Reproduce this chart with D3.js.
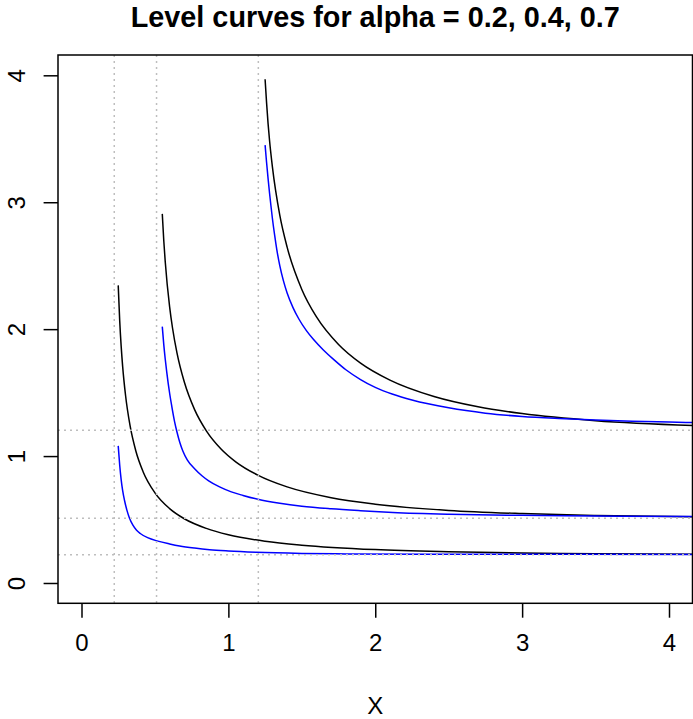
<!doctype html>
<html lang="en">

<head>
    <meta charset="utf-8">
    <title>Level curves</title>
    <style>
        body {
            margin: 0;
            background: #fff;
        }
        text {
            font-family: "Liberation Sans", Arial, sans-serif;
        }
    </style>
</head>

<body>
    <div id="chart"></div>
</body>
<script src="https://cdnjs.cloudflare.com/ajax/libs/d3/7.8.5/d3.min.js"></script>
<script>

    // levels and their thresholds -log(1 - alpha), drawn as dotted guides
    var alphas = [0.2, 0.4, 0.7];
    var guides = [0.223, 0.511, 1.204];
    var ticks = [0, 1, 2, 3, 4];

    // black curves (one per alpha)
    var blackX = [
        [0.25, 0.26, 0.27, 0.28, 0.30, 0.33, 0.37, 0.42, 0.50, 0.60, 0.70, 0.85, 1.00, 1.25, 1.50, 2.00, 2.50, 3.00, 3.50, 4.20],
        [0.55, 0.56, 0.57, 0.60, 0.62, 0.65, 0.70, 0.77, 0.85, 0.95, 1.05, 1.20, 1.40, 1.70, 2.00, 2.50, 3.00, 3.50, 4.20],
        [1.25, 1.26, 1.27, 1.28, 1.30, 1.35, 1.40, 1.50, 1.60, 1.75, 1.90, 2.10, 2.40, 2.70, 3.00, 3.50, 4.20]
    ];
    var blackY = [
        [2.345, 2.069, 1.866, 1.709, 1.477, 1.243, 1.040, 0.875, 0.710, 0.586, 0.506, 0.430, 0.380, 0.329, 0.298, 0.263, 0.246, 0.236, 0.231, 0.227],
        [2.908, 2.700, 2.533, 2.176, 2.007, 1.813, 1.583, 1.366, 1.199, 1.056, 0.955, 0.850, 0.757, 0.672, 0.621, 0.572, 0.547, 0.532, 0.521],
        [3.969, 3.785, 3.623, 3.490, 3.276, 2.898, 2.646, 2.313, 2.096, 1.879, 1.732, 1.598, 1.469, 1.388, 1.335, 1.279, 1.240]
    ];

    // blue curves
    var blueX = [
        [0.25, 0.26, 0.27, 0.28, 0.293, 0.31, 0.327, 0.35, 0.375, 0.40, 0.45, 0.52, 0.60, 0.668, 0.77, 0.872, 1.00, 1.19, 1.50, 1.80, 2.50, 3.30, 4.20],
        [0.55, 0.56, 0.57, 0.58, 0.59, 0.60, 0.615, 0.634, 0.65, 0.67, 0.69, 0.72, 0.77, 0.82, 0.866, 0.94, 1.02, 1.10, 1.20, 1.35, 1.50, 1.70, 1.90, 2.12, 2.50, 3.00, 3.50, 4.20],
        [1.25, 1.26, 1.27, 1.28, 1.29, 1.30, 1.315, 1.33, 1.35, 1.375, 1.40, 1.44, 1.48, 1.53, 1.58, 1.645, 1.72, 1.80, 1.90, 2.00, 2.12, 2.25, 2.50, 2.75, 3.00, 3.25, 3.50, 3.75, 4.00, 4.20]
    ];
    var blueY = [
        [1.080, 0.930, 0.815, 0.730, 0.650, 0.570, 0.510, 0.455, 0.415, 0.390, 0.357, 0.330, 0.308, 0.292, 0.275, 0.262, 0.252, 0.242, 0.233, 0.229, 0.227, 0.226, 0.224],
        [2.020, 1.880, 1.765, 1.665, 1.575, 1.495, 1.390, 1.270, 1.190, 1.105, 1.040, 0.970, 0.900, 0.845, 0.805, 0.757, 0.718, 0.690, 0.660, 0.628, 0.605, 0.585, 0.570, 0.556, 0.542, 0.533, 0.527, 0.523],
        [3.450, 3.315, 3.190, 3.075, 2.970, 2.870, 2.740, 2.625, 2.500, 2.380, 2.285, 2.170, 2.080, 1.990, 1.918, 1.838, 1.758, 1.680, 1.603, 1.541, 1.487, 1.442, 1.380, 1.338, 1.312, 1.296, 1.284, 1.275, 1.268, 1.263]
    ];

    var W = 693, H = 719;
    var pLeft = 58, pRight = 692.5, pTop = 55, pBottom = 603.3;

    var svg = d3.select("#chart").append("svg")
        .attr("width", W)
        .attr("height", H);

    var x = d3.scaleLinear().domain([-0.16, 4.16]).range([pLeft, pRight]);
    var y = d3.scaleLinear().domain([-0.16, 4.16]).range([pBottom, pTop]);

    svg.append("clipPath").attr("id", "clip")
        .append("rect")
        .attr("x", pLeft).attr("y", pTop)
        .attr("width", pRight - pLeft).attr("height", pBottom - pTop);

    var line = d3.line()
        .x(function (d) { return x(d[0]); })
        .y(function (d) { return y(d[1]); })
        .curve(d3.curveMonotoneX);

    var plot = svg.append("g").attr("clip-path", "url(#clip)");

    function pts(xs, ys) {
        return xs.map(function (v, i) { return [v, ys[i]]; });
    }

    alphas.forEach(function (a, k) {
        plot.append("path")
            .attr("d", line(pts(blackX[k], blackY[k])))
            .attr("fill", "none")
            .attr("stroke", "#000")
            .attr("stroke-width", 1.5);
    });
    alphas.forEach(function (a, k) {
        plot.append("path")
            .attr("d", line(pts(blueX[k], blueY[k])))
            .attr("fill", "none")
            .attr("stroke", "#0000ff")
            .attr("stroke-width", 1.5);
    });

    // dotted guides
    plot.selectAll(".vg").data(guides).enter().append("line")
        .attr("x1", function (d) { return x(d); })
        .attr("x2", function (d) { return x(d); })
        .attr("y1", pTop).attr("y2", pBottom)
        .attr("stroke", "#bebebe").attr("stroke-width", 1.5)
        .attr("stroke-dasharray", "2,4");
    plot.selectAll(".hg").data(guides).enter().append("line")
        .attr("y1", function (d) { return y(d); })
        .attr("y2", function (d) { return y(d); })
        .attr("x1", pLeft).attr("x2", pRight)
        .attr("stroke", "#bebebe").attr("stroke-width", 1.5)
        .attr("stroke-dasharray", "2,4");

    // box
    svg.append("rect")
        .attr("x", pLeft).attr("y", pTop)
        .attr("width", pRight - pLeft).attr("height", pBottom - pTop)
        .attr("fill", "none").attr("stroke", "#000").attr("stroke-width", 1.5);

    var xAxis = svg.append("g")
        .attr("transform", "translate(0," + pBottom + ")")
        .call(d3.axisBottom(x).tickValues(ticks).tickSize(14.4).tickPadding(0).tickFormat(d3.format("d")));
    xAxis.select(".domain").remove();
    xAxis.selectAll("line").attr("stroke-width", 1.5);
    xAxis.selectAll("text")
        .attr("dy", null).attr("y", 48)
        .style("font-size", "24px").attr("fill", "#000");

    var yAxis = svg.append("g")
        .attr("transform", "translate(" + pLeft + ",0)")
        .call(d3.axisLeft(y).tickValues(ticks).tickSize(14.4).tickPadding(0).tickFormat(d3.format("d")));
    yAxis.select(".domain").remove();
    yAxis.selectAll("line").attr("stroke-width", 1.5);
    yAxis.selectAll("text")
        .attr("x", null).attr("dy", null)
        .attr("text-anchor", "middle")
        .attr("transform", "translate(-33.5,0) rotate(-90)")
        .style("font-size", "24px").attr("fill", "#000");

    svg.append("text")
        .attr("x", (pLeft + pRight) / 2).attr("y", 27)
        .attr("text-anchor", "middle")
        .style("font-size", "28.8px").style("font-weight", "bold")
        .text("Level curves for alpha = " + alphas.join(", "));

    svg.append("text")
        .attr("x", (pLeft + pRight) / 2).attr("y", 714)
        .attr("text-anchor", "middle")
        .style("font-size", "24px")
        .text("X");

</script>

</html>
